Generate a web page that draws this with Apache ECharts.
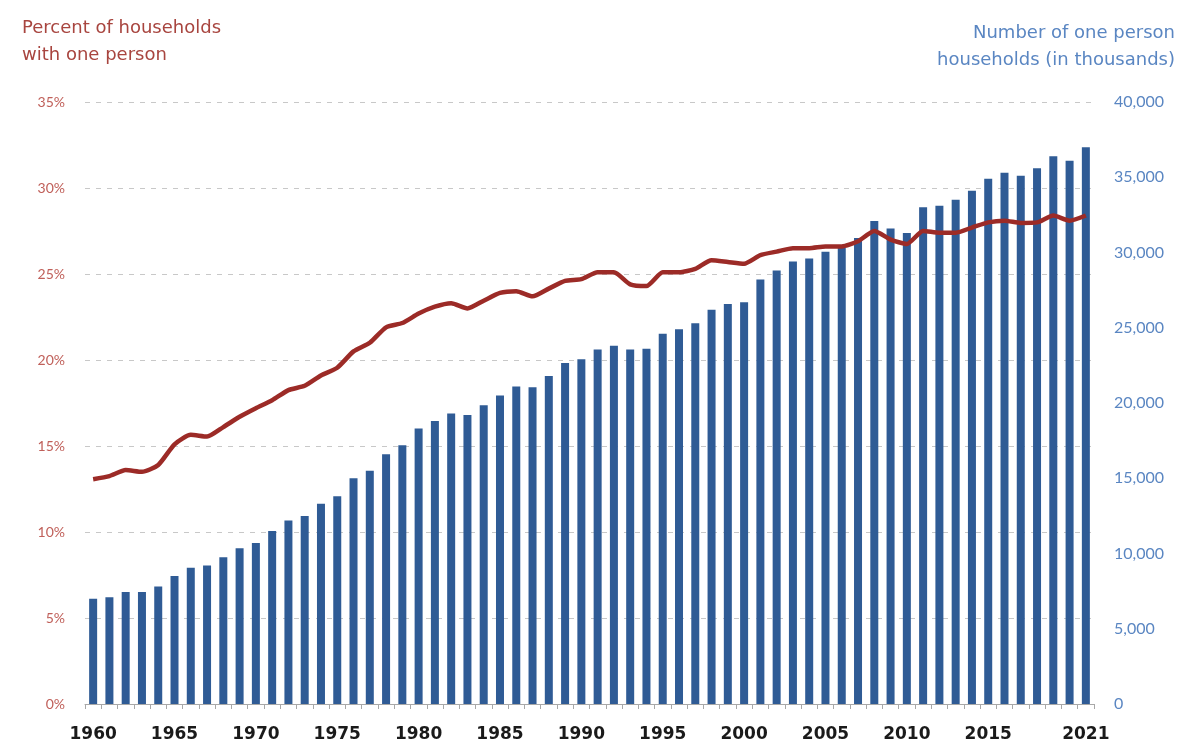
<!DOCTYPE html>
<html>
<head>
<meta charset="utf-8">
<script src="https://cdn.jsdelivr.net/npm/echarts@6/dist/echarts.min.js"></script>
<style>
html,body{margin:0;padding:0;background:#fff;}
#chart{width:1185px;height:749px;}
</style>
</head>
<body>
<div id="chart"></div>
<script>
const years = [];
for (let y = 1960; y <= 2021; y++) years.push(String(y));

// Number of one person households (thousands)
const households = [
  7.0, 7.1, 7.45, 7.45, 7.8, 8.5, 9.05, 9.2, 9.75, 10.35,
  10.7, 11.5, 12.2, 12.5, 13.3, 13.8, 15.0, 15.5, 16.6, 17.2,
  18.3, 18.8, 19.3, 19.2, 19.85, 20.5, 21.1, 21.05, 21.8, 22.66,
  22.9, 23.55, 23.8, 23.55, 23.6, 24.6, 24.9, 25.3, 26.2, 26.57,
  26.7, 28.2, 28.8, 29.4, 29.6, 30.05, 30.3, 30.97, 32.1, 31.6,
  31.3, 33.0, 33.1, 33.5, 34.1, 34.9, 35.3, 35.1, 35.6, 36.4,
  36.1, 37.0
].map(v => Math.round(v * 1000));

// Percent of households with one person
const percent = [
  13.07, 13.25, 13.6, 13.5, 13.9, 15.1, 15.65, 15.55, 16.1, 16.7,
  17.2, 17.66, 18.25, 18.5, 19.1, 19.55, 20.5, 21.0, 21.9, 22.15,
  22.7, 23.1, 23.3, 23.0, 23.45, 23.9, 24.0, 23.7, 24.15, 24.6,
  24.7, 25.1, 25.1, 24.4, 24.3, 25.1, 25.1, 25.3, 25.8, 25.7,
  25.6, 26.1, 26.3, 26.5, 26.5, 26.6, 26.6, 26.9, 27.5, 27.0,
  26.75, 27.5, 27.4, 27.4, 27.7, 28.0, 28.1, 27.97, 28.0, 28.4,
  28.1, 28.4
];

const shownYears = ['1960','1965','1970','1975','1980','1985','1990','1995','2000','2005','2010','2015','2021'];

const leftTitle = ['Percent of households', 'with one person'];
const rightTitle = ['Number of one person', 'households (in thousands)'];

const chart = echarts.init(document.getElementById('chart'));
chart.setOption({
  backgroundColor: '#ffffff',
  animation: false,
  textStyle: { fontFamily: 'Lato' },
  graphic: [
    { type: 'text', left: 22, top: 19,
      style: { text: leftTitle[0], fill: '#A8453F', font: '18px "DejaVu Sans"' } },
    { type: 'text', left: 22, top: 46,
      style: { text: leftTitle[1], fill: '#A8453F', font: '18px "DejaVu Sans"' } },
    { type: 'text', right: 10, top: 24,
      style: { text: rightTitle[0], fill: '#5A86C2', font: '18px "DejaVu Sans"' } },
    { type: 'text', right: 10, top: 51,
      style: { text: rightTitle[1], fill: '#5A86C2', font: '18px "DejaVu Sans"' } }
  ],
  grid: { left: 85, right: 91, top: 102, bottom: 45, containLabel: false },
  xAxis: {
    type: 'category',
    data: years,
    axisLine: { lineStyle: { color: '#A8A8A8', width: 1 } },
    axisTick: { show: true, interval: 0, length: 5, lineStyle: { color: '#A8A8A8' } },
    axisLabel: {
      interval: 0,
      formatter: v => shownYears.includes(v) ? v : '',
      color: '#1a1a1a', fontSize: 17, fontWeight: 'bold', margin: 22, fontFamily: 'DejaVu Sans'
    }
  },
  yAxis: [
    {
      type: 'value', min: 0, max: 35, interval: 5, position: 'left',
      axisLine: { show: false }, axisTick: { show: false },
      axisLabel: { formatter: '{value}%', color: '#C0605A', fontSize: 14, margin: 20, fontFamily: 'Lato' },
      splitLine: { show: true, lineStyle: { color: '#C8C8C8', type: [5, 6], width: 1 } }
    },
    {
      type: 'value', min: 0, max: 40000, interval: 5000, position: 'right',
      axisLine: { show: false }, axisTick: { show: false },
      axisLabel: {
        formatter: v => v.toLocaleString('en-US'),
        color: '#5A86C2', fontSize: 16, margin: 20, fontFamily: 'Lato'
      },
      splitLine: { show: false }
    }
  ],
  series: [
    {
      name: 'Number of one person households',
      type: 'bar', yAxisIndex: 1, data: households,
      barWidth: 8,
      itemStyle: { color: '#2F5B95' }
    },
    {
      name: 'Percent of households with one person',
      type: 'line', yAxisIndex: 0, data: percent,
      showSymbol: false, symbol: 'none', smooth: 0.2,
      lineStyle: { color: '#9C2B27', width: 4.5 },
      z: 5
    }
  ]
});
</script>
</body>
</html>
